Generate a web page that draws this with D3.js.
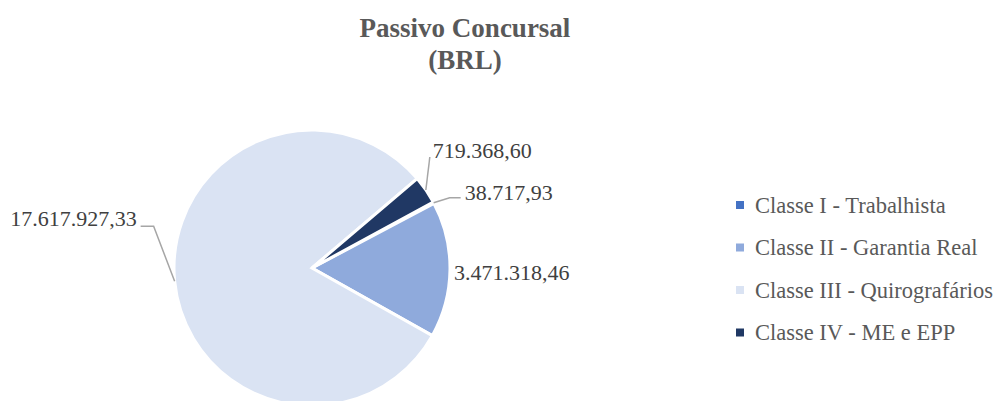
<!DOCTYPE html>
<html><head><meta charset="utf-8">
<script src="https://cdn.jsdelivr.net/npm/d3@7"></script>
<style>body{margin:0;background:#fff}svg{display:block}</style>
</head><body>
<svg id="c" width="1000" height="401"></svg>
<script>
const categories = ["Classe I - Trabalhista","Classe II - Garantia Real","Classe III - Quirografários","Classe IV - ME e EPP"];
const values = [38717.93, 3471318.46, 17617927.33, 719368.60];
const labels = ["38.717,93","3.471.318,46","17.617.927,33","719.368,60"];
const colors = ["#4472C4","#8FAADC","#DAE3F3","#203864"];
const titleLines = ["Passivo Concursal","(BRL)"];

const svg = d3.select("#c");
const cx = 312, cy = 268, r = 138;
const font = "'Liberation Serif','Times New Roman',serif";

// title
svg.append("text").attr("x",465).attr("y",0).attr("text-anchor","middle")
  .style("font-family",font).style("font-weight","bold").style("font-size","27px").attr("fill","#595959")
  .selectAll("tspan").data(titleLines).join("tspan")
  .attr("x",465).attr("y",(d,i)=>37+i*32).text(d=>d);

const start = 61.5*Math.PI/180;
const pie = d3.pie().sort(null).value(d=>d).startAngle(start).endAngle(start+2*Math.PI);
const arcs = pie(values);
const arc = d3.arc().innerRadius(0).outerRadius(r);
const g = svg.append("g").attr("transform",`translate(${cx},${cy})`);
g.selectAll("path").data(arcs).join("path")
  .attr("d",arc).attr("fill",(d,i)=>colors[i]).attr("stroke","#fff").attr("stroke-width",3).attr("stroke-linejoin","miter");

// label layout (offsets relative to arc edge point)
const layout = [
  {line:[[16,-5],[27,-5]], tx:31, ty:-3, anchor:"start"},
  {line:null, abs:[454,280], anchor:"start"},
  {line:[[-21,-55],[-34,-55]], tx:-38, ty:-55, anchor:"end"},
  {line:[[4,-33]], tx:7, ty:-32, anchor:"start"}
];
arcs.forEach((a,i)=>{
  const m = (a.startAngle+a.endAngle)/2;
  const ex = Math.sin(m)*r, ey = -Math.cos(m)*r;
  const L = layout[i];
  let x, y;
  if (L.line){
    const pts = [[ex,ey]].concat(L.line.map(p=>[ex+p[0],ey+p[1]]));
    g.append("path").attr("d",d3.line()(pts)).attr("fill","none").attr("stroke","#A6A6A6").attr("stroke-width",1.5);
    x = ex+L.tx; y = ey+L.ty;
  } else { x = L.abs[0]-cx; y = L.abs[1]-cy; }
  g.append("text").attr("x",x).attr("y",y).attr("text-anchor",L.anchor)
    .style("font-family",font).style("font-size","22px").attr("fill","#404040").text(labels[i]);
});

// legend
const lg = svg.append("g").attr("transform","translate(736,0)");
const rows = lg.selectAll("g").data(categories).join("g").attr("transform",(d,i)=>`translate(0,${205+i*42.5})`);
rows.append("rect").attr("x",0).attr("y",-4).attr("width",8).attr("height",8).attr("fill",(d,i)=>colors[i]);
rows.append("text").attr("x",19).attr("y",7.5).style("font-family",font).style("font-size","22.5px").attr("fill","#595959").text(d=>d);
</script>
</body></html>
